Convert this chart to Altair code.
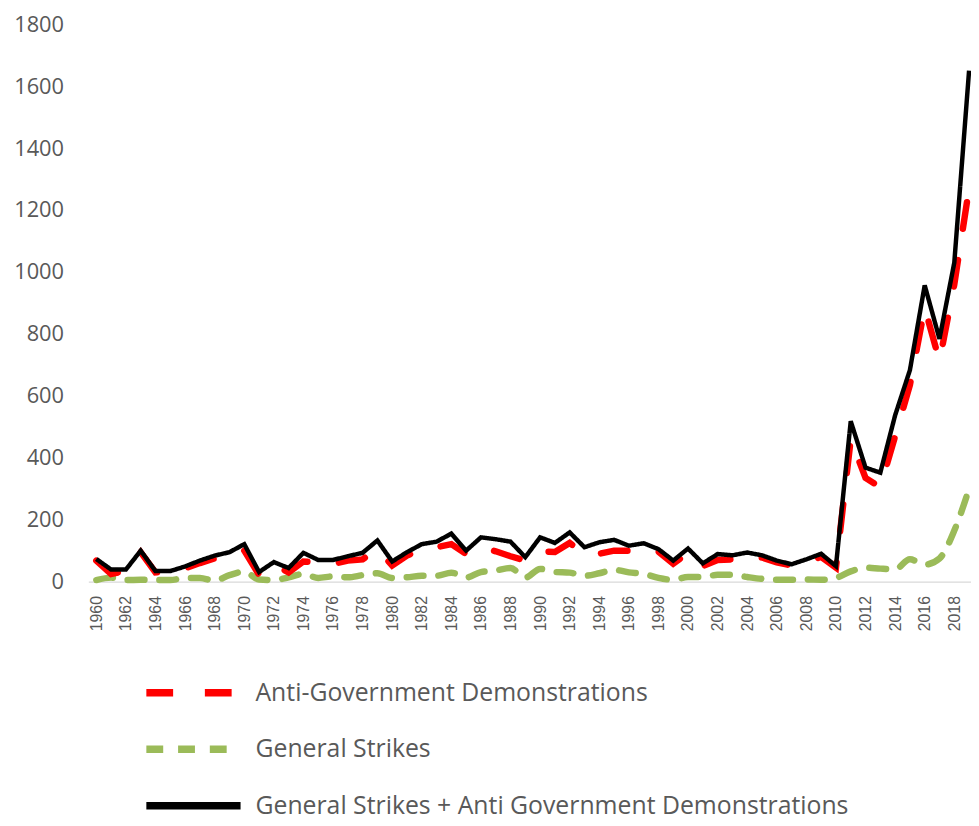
import altair as alt
import pandas as pd

years = list(range(1960, 2020))

anti_gov = [68, 25, 35, 95, 30, 32, 43, 60, 75, 88,
            100, 22, 55, 30, 65, 62, 57, 68, 72, 105,
            52, 84, 105, 111, 121, 89, 110, 98, 82, 68,
            97, 96, 125, 90, 90, 100, 100, 105, 97, 58,
            92, 50, 70, 72, 82, 78, 62, 52, 65, 80,
            45, 460, 335, 305, 470, 635, 885, 712, 960, 1270]

strikes = [5, 13, 5, 6, 5, 5, 12, 12, 3, 21,
           32, 7, 5, 14, 25, 12, 17, 14, 21, 27,
           12, 14, 19, 19, 29, 13, 31, 36, 44, 13,
           41, 31, 29, 19, 27, 38, 30, 25, 12, 6,
           15, 15, 22, 22, 15, 9, 6, 6, 7, 6,
           12, 33, 45, 42, 40, 72, 55, 75, 165, 300]

total = [73, 39, 39, 100, 34, 34, 49, 68, 84, 95,
         121, 31, 63, 44, 93, 70, 70, 82, 93, 133,
         65, 95, 121, 129, 155, 100, 143, 137, 129, 79,
         143, 125, 159, 111, 127, 135, 116, 124, 105, 68,
         107, 59, 89, 85, 94, 85, 68, 56, 72, 90,
         50, 518, 368, 352, 537, 683, 957, 784, 1030, 1650]

series_names = ["Anti-Government Demonstrations",
                "General Strikes",
                "General Strikes + Anti Government Demonstrations"]
series_colors = ["#FF0000", "#9BBB59", "#000000"]
series_dashes = [[27, 32], [17, 15], [1, 0]]

x_tick_values = list(range(1960, 2019, 2))
y_tick_values = list(range(0, 1801, 200))

rows = []
for name, vals in zip(series_names, [anti_gov, strikes, total]):
    for yr, v in zip(years, vals):
        rows.append({"year": yr, "value": v, "series": name})
df = pd.DataFrame(rows)

legend = alt.Legend(
    orient="none", legendX=54.5, legendY=659, direction="vertical",
    clipHeight=30, rowPadding=27, symbolSize=9025, symbolStrokeWidth=7.5,
    symbolType="stroke", symbolOffset=0, padding=0,
    labelFont="Open Sans", labelFontSize=25, labelColor="#595959",
    labelLimit=1000, labelOffset=11,
)

x = alt.X(
    "year:Q",
    scale=alt.Scale(domain=[1959.46, 2019.13], nice=False, zero=False),
    axis=alt.Axis(values=x_tick_values, format="d", labelAngle=270, ticks=False,
                  tickSize=0, labelPadding=14, grid=False, domainColor="#d9d9d9",
                  domainWidth=1.5, labelColor="#595959", labelFont="Liberation Sans",
                  labelFontSize=16, labelFlush=False, labelOverlap=False, title=None),
)
y = alt.Y(
    "value:Q",
    scale=alt.Scale(domain=[0, 1800], nice=False),
    axis=alt.Axis(values=y_tick_values, format="d", ticks=False, tickSize=0,
                  domain=False, grid=False, labelPadding=25, labelColor="#595959",
                  labelFont="Open Sans", labelFontSize=22, title=None),
)
color = alt.Color("series:N", scale=alt.Scale(domain=series_names, range=series_colors),
                  legend=legend, title=None)
dash = alt.StrokeDash("series:N", scale=alt.Scale(domain=series_names, range=series_dashes),
                      legend=legend, title=None)

base = alt.Chart(df).encode(x=x, y=y, color=color, strokeDash=dash)

green = base.transform_filter(alt.datum.series == series_names[1]).mark_line(
    strokeWidth=6.5, strokeCap="round", interpolate="monotone")
red = base.transform_filter(alt.datum.series == series_names[0]).mark_line(
    strokeWidth=6.5, strokeCap="round")
black = base.transform_filter(alt.datum.series == series_names[2]).mark_line(
    strokeWidth=4.5)

chart = alt.layer(green, red, black).properties(
    width=890, height=562,
    autosize=alt.AutoSizeParams(type="none"),
    padding={"left": 81, "top": 13, "right": 0, "bottom": 243},
).configure_view(stroke=None)

chart.save("out.html", embed_options={"renderer": "svg", "actions": False})
